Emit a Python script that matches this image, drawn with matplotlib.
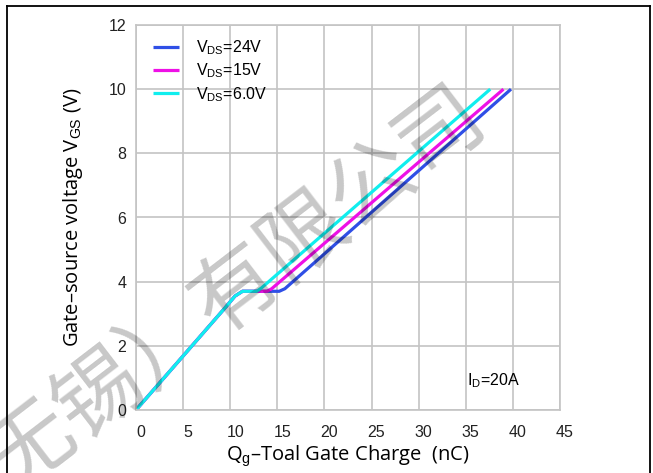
import matplotlib.pyplot as plt
from matplotlib.lines import Line2D
from matplotlib.transforms import ScaledTranslation

plt.rcParams['font.family'] = ['Liberation Sans', 'DejaVu Sans']
plt.rcParams['mathtext.fontset'] = 'custom'
plt.rcParams['mathtext.rm'] = 'Liberation Sans'

# gate charge curves (Qg in nC, Vgs in V)
qg_24 = [0, 9.5, 10.5, 11.3, 15.2, 15.8, 39.8]
vgs_24 = [0, 3.2, 3.55, 3.7, 3.7, 3.78, 10.0]
qg_15 = [0, 9.5, 10.5, 11.3, 13.9, 14.4, 39.0]
vgs_15 = [0, 3.2, 3.55, 3.7, 3.7, 3.78, 10.0]
qg_6 = [0, 9.5, 10.5, 11.3, 12.8, 13.3, 37.6]
vgs_6 = [0, 3.2, 3.55, 3.7, 3.7, 3.8, 10.0]

labels = [r'V$_{\mathrm{DS}}$=24V', r'V$_{\mathrm{DS}}$=15V', r'V$_{\mathrm{DS}}$=6.0V']
colors = ['#2f4fe6', '#ee10e6', '#10eeee']
xticks = list(range(0, 46, 5))
yticks = list(range(0, 13, 2))

fig = plt.figure(figsize=(6.53, 4.73), dpi=100)
ax = fig.add_axes([136/653, 63/473, 424/653, 385/473])

for q, v, lab, c in zip([qg_24, qg_15, qg_6], [vgs_24, vgs_15, vgs_6], labels, colors):
    ax.plot(q, v, color=c, lw=2.3, label=lab, solid_capstyle='butt')

ax.set_xlim(0, 45)
ax.set_ylim(0, 12)
ax.set_xticks(xticks)
ax.set_yticks(yticks)
ax.grid(True, color='#c4c4c4', lw=1.2)
ax.set_axisbelow(True)
for s in ax.spines.values():
    s.set_color('#c4c4c4')
    s.set_linewidth(1.2)
ax.tick_params(length=0, labelsize=11.5, colors='#222222')
ax.tick_params(axis='x', pad=11)
ax.tick_params(axis='y', pad=7)
# x tick labels sit a little right of their gridlines
off = ScaledTranslation(5/100, 0, fig.dpi_scale_trans)
for t in ax.get_xticklabels():
    t.set_transform(t.get_transform() + off)

ax.set_xlabel(r'Q$_{\mathrm{g}}$–Toal Gate Charge  (nC)', fontsize=14.5,
              family=['Open Sans', 'DejaVu Sans'], labelpad=2)
ax.set_ylabel(r'Gate–source voltage V$_{\mathrm{GS}}$ (V)', fontsize=14.5,
              family=['Open Sans', 'DejaVu Sans'], labelpad=17)

ax.legend(loc='upper left', bbox_to_anchor=(0.04, 0.965), frameon=False,
          fontsize=11.5, handlelength=1.6, handletextpad=1.1,
          labelspacing=0.28, borderpad=0, borderaxespad=0)

ax.text(35.1, 0.93, r'I$_{\mathrm{D}}$=20A', fontsize=11.5, va='center')

# frame around the picture
fig.add_artist(Line2D([7/653, 7/653], [0, 1 - 6/473], color='black', lw=1.3))
fig.add_artist(Line2D([650/653, 650/653], [0, 1 - 6/473], color='black', lw=1.3))
fig.add_artist(Line2D([7/653, 650/653], [1 - 6/473, 1 - 6/473], color='black', lw=1.3))

# watermark
fig.text(237/653, 1 - 290/473, '无锡）有限公司', fontsize=62, rotation=37.5,
         rotation_mode='anchor', ha='center', va='center', color='black',
         alpha=0.22, family=['Noto Sans CJK SC', 'DejaVu Sans'], zorder=10)

fig.savefig('out.png', dpi=100)
